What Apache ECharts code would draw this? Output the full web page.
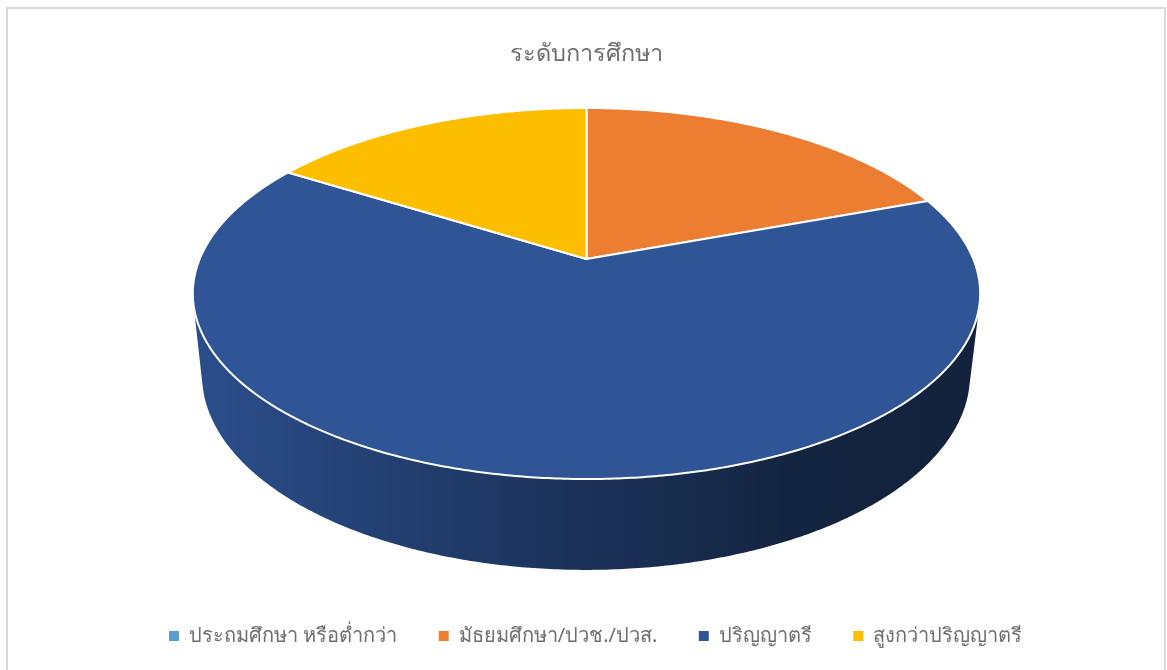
<!DOCTYPE html>
<html>
<head>
<meta charset="utf-8">
<style>
  html, body { margin: 0; background: #fff; }
  #main { width: 1167px; height: 670px; }
</style>
</head>
<body>
<div id="main"></div>
<script src="https://cdn.jsdelivr.net/npm/echarts@6/dist/echarts.min.js"></script>
<script>
const titleText = 'ระดับการศึกษา';
const categories = ['ประถมศึกษา หรือต่ำกว่า', 'มัธยมศึกษา/ปวช./ปวส.', 'ปริญญาตรี', 'สูงกว่าปริญญาตรี'];
const shares = [0, 19.4, 64.5, 16.1];
const colors = ['#5b9bd5', '#ed7d31', '#2f5597', '#fdbe00'];

// perspective of the pie: k shrinks the far side of each ring
const k = 0.186;
const topRing = { x: 586.5, y: 259, a: 386.8, b: 179.1 };
const bottomRing = { x: 586, y: 338.7, a: 377.3, b: 188.2 };
// the wall is only seen between these two silhouette angles
const wallFrom = 104;
const wallTo = 256;
const fontName = '"Noto Sans", "DejaVu Sans", sans-serif';

// angle in degrees, clockwise from 12 o'clock
function project(ring, deg) {
  const rad = deg * Math.PI / 180;
  const sx = Math.sin(rad);
  const sy = Math.cos(rad);
  const d = 1 + k * sy;
  return [ring.x + ring.a * sx / d, ring.y - ring.b * sy / d];
}

function arcPoints(ring, start, end) {
  const pts = [];
  const steps = Math.max(2, Math.ceil((end - start) * 2));
  for (let i = 0; i <= steps; i++) {
    pts.push(project(ring, start + (end - start) * i / steps));
  }
  return pts;
}

function shade(hex, f) {
  const n = parseInt(hex.slice(1), 16);
  const c = [(n >> 16) & 255, (n >> 8) & 255, n & 255].map(v => Math.round(v * f));
  return 'rgb(' + c.join(',') + ')';
}

// the side wall gets darker from left to right
function sideFill(hex) {
  return new echarts.graphic.LinearGradient(193, 0, 980, 0, [
    { offset: 0, color: shade(hex, 0.92) },
    { offset: 0.5, color: shade(hex, 0.58) },
    { offset: 0.75, color: shade(hex, 0.43) },
    { offset: 1, color: shade(hex, 0.4) }
  ], true);
}

function renderSlice(idx) {
  return function (params, api) {
    const start = api.value(0);
    const end = api.value(1);
    if (end <= start) return null;
    const children = [];
    const wallStart = Math.max(start, wallFrom);
    const wallEnd = Math.min(end, wallTo);
    if (wallEnd > wallStart) {
      const wallTop = arcPoints(topRing, wallStart, wallEnd);
      const wallLow = arcPoints(bottomRing, wallStart, wallEnd).reverse();
      children.push({
        type: 'polygon',
        z2: 1,
        shape: { points: wallTop.concat(wallLow) },
        style: { fill: sideFill(colors[idx]) }
      });
    }
    children.push({
      type: 'polygon',
      z2: 2,
      shape: { points: [[topRing.x, topRing.y]].concat(arcPoints(topRing, start, end)) },
      style: { fill: colors[idx], stroke: '#fff', lineWidth: 2, lineJoin: 'round' }
    });
    return { type: 'group', children: children };
  };
}

const total = shares.reduce((a, b) => a + b, 0);
let running = 0;
const series = categories.map(function (name, i) {
  const start = running / total * 360;
  running += shares[i];
  const end = running / total * 360;
  return {
    type: 'custom',
    name: name,
    coordinateSystem: 'none',
    silent: true,
    itemStyle: { color: colors[i] },
    renderItem: renderSlice(i),
    data: [[start, end]]
  };
});

const chart = echarts.init(document.getElementById('main'));
chart.setOption({
  animation: false,
  backgroundColor: '#fff',
  title: {
    text: titleText,
    left: 505,
    top: 37,
    textStyle: { color: '#6e6e6e', fontSize: 23.5, fontWeight: 'normal', fontFamily: fontName }
  },
  legend: {
    data: categories,
    left: 164,
    top: 621,
    icon: 'rect',
    itemWidth: 10,
    itemHeight: 10,
    itemGap: 41.5,
    textStyle: { color: '#6e6e6e', fontSize: 20, fontFamily: fontName, padding: [0, 0, 0, 5] }
  },
  graphic: [{
    type: 'rect',
    silent: true,
    shape: { x: 7, y: 8, width: 1158, height: 700 },
    style: { fill: 'none', stroke: '#d9d9d9', lineWidth: 2 }
  }],
  series: series
});
</script>
</body>
</html>
